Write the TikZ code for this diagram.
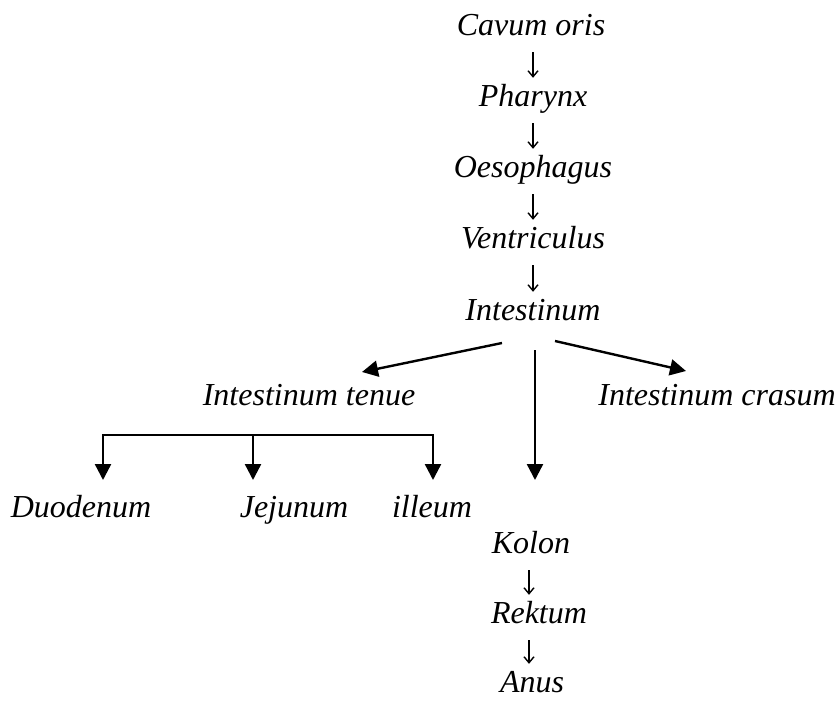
\documentclass[tikz,border=0pt]{standalone}
\usepackage{fontspec}
\setmainfont{Liberation Serif}
\usetikzlibrary{arrows.meta}
\tikzset{
  lbl/.style={anchor=base, inner sep=0pt, text height=22pt, text depth=7pt,
    font=\fontsize{32}{38}\selectfont\itshape},
  thinarrow/.style={line width=1.4pt, -{Straight Barb[length=6pt,width=10pt]},
    shorten <=10pt, shorten >=6pt},
  bigarrow/.style={line width=2.4pt, -{Triangle[length=16pt,width=16pt]}},
  bracketline/.style={line width=2.4pt}
}
\begin{document}
\begin{tikzpicture}[x=1pt,y=-1pt]
\useasboundingbox (0,0) rectangle (836,707);
% main column
\node[lbl] (cavum) at (531,35) {Cavum oris};
\node[lbl] (phar) at (533,106) {Pharynx};
\node[lbl] (oeso) at (533,177) {Oesophagus};
\node[lbl] (vent) at (533,248) {Ventriculus};
\node[lbl] (intest) at (533,320) {Intestinum};
\draw[thinarrow] (cavum.south -| phar.south) -- (phar.north);
\draw[thinarrow] (phar.south) -- (oeso.north);
\draw[thinarrow] (oeso.south) -- (vent.north);
\draw[thinarrow] (vent.south) -- (intest.north);
% second level
\node[lbl] (tenue) at (309,405) {Intestinum tenue};
\node[lbl] (crasum) at (717,405) {Intestinum crasum};
\coordinate (ls) at (502,343);
\coordinate (lt) at (362,372);
\coordinate (rs) at (555,341);
\coordinate (rt) at (686,371);
\coordinate (vs) at (535,350);
\coordinate (vt) at (535,480);
\draw[bigarrow] (ls) -- (lt);
\draw[bigarrow] (rs) -- (rt);
\draw[bigarrow] (vs) -- (vt);
% small intestine parts
\node[lbl] (duo) at (81,517) {Duodenum};
\node[lbl] (jej) at (294,517) {Jejunum};
\node[lbl] (ile) at (432,517) {illeum};
\coordinate (bl) at (103,435);
\coordinate (bm) at (253,435);
\coordinate (br) at (433,435);
\coordinate (tl) at (103,480);
\coordinate (tm) at (253,480);
\coordinate (tr) at (433,480);
\draw[bracketline] ([xshift=-1.2pt]bl) -- ([xshift=1.2pt]br);
\draw[bigarrow] (bl) -- (tl);
\draw[bigarrow] (bm) -- (tm);
\draw[bigarrow] (br) -- (tr);
% large intestine parts
\node[lbl] (kolon) at (531,553) {Kolon};
\node[lbl] (rek) at (539,623) {Rektum};
\node[lbl] (anus) at (532,692) {Anus};
\draw[thinarrow] (kolon.south -| 529,0) -- (rek.north -| 529,0);
\draw[thinarrow] (rek.south -| 529,0) -- (anus.north -| 529,0);
\end{tikzpicture}
\end{document}
